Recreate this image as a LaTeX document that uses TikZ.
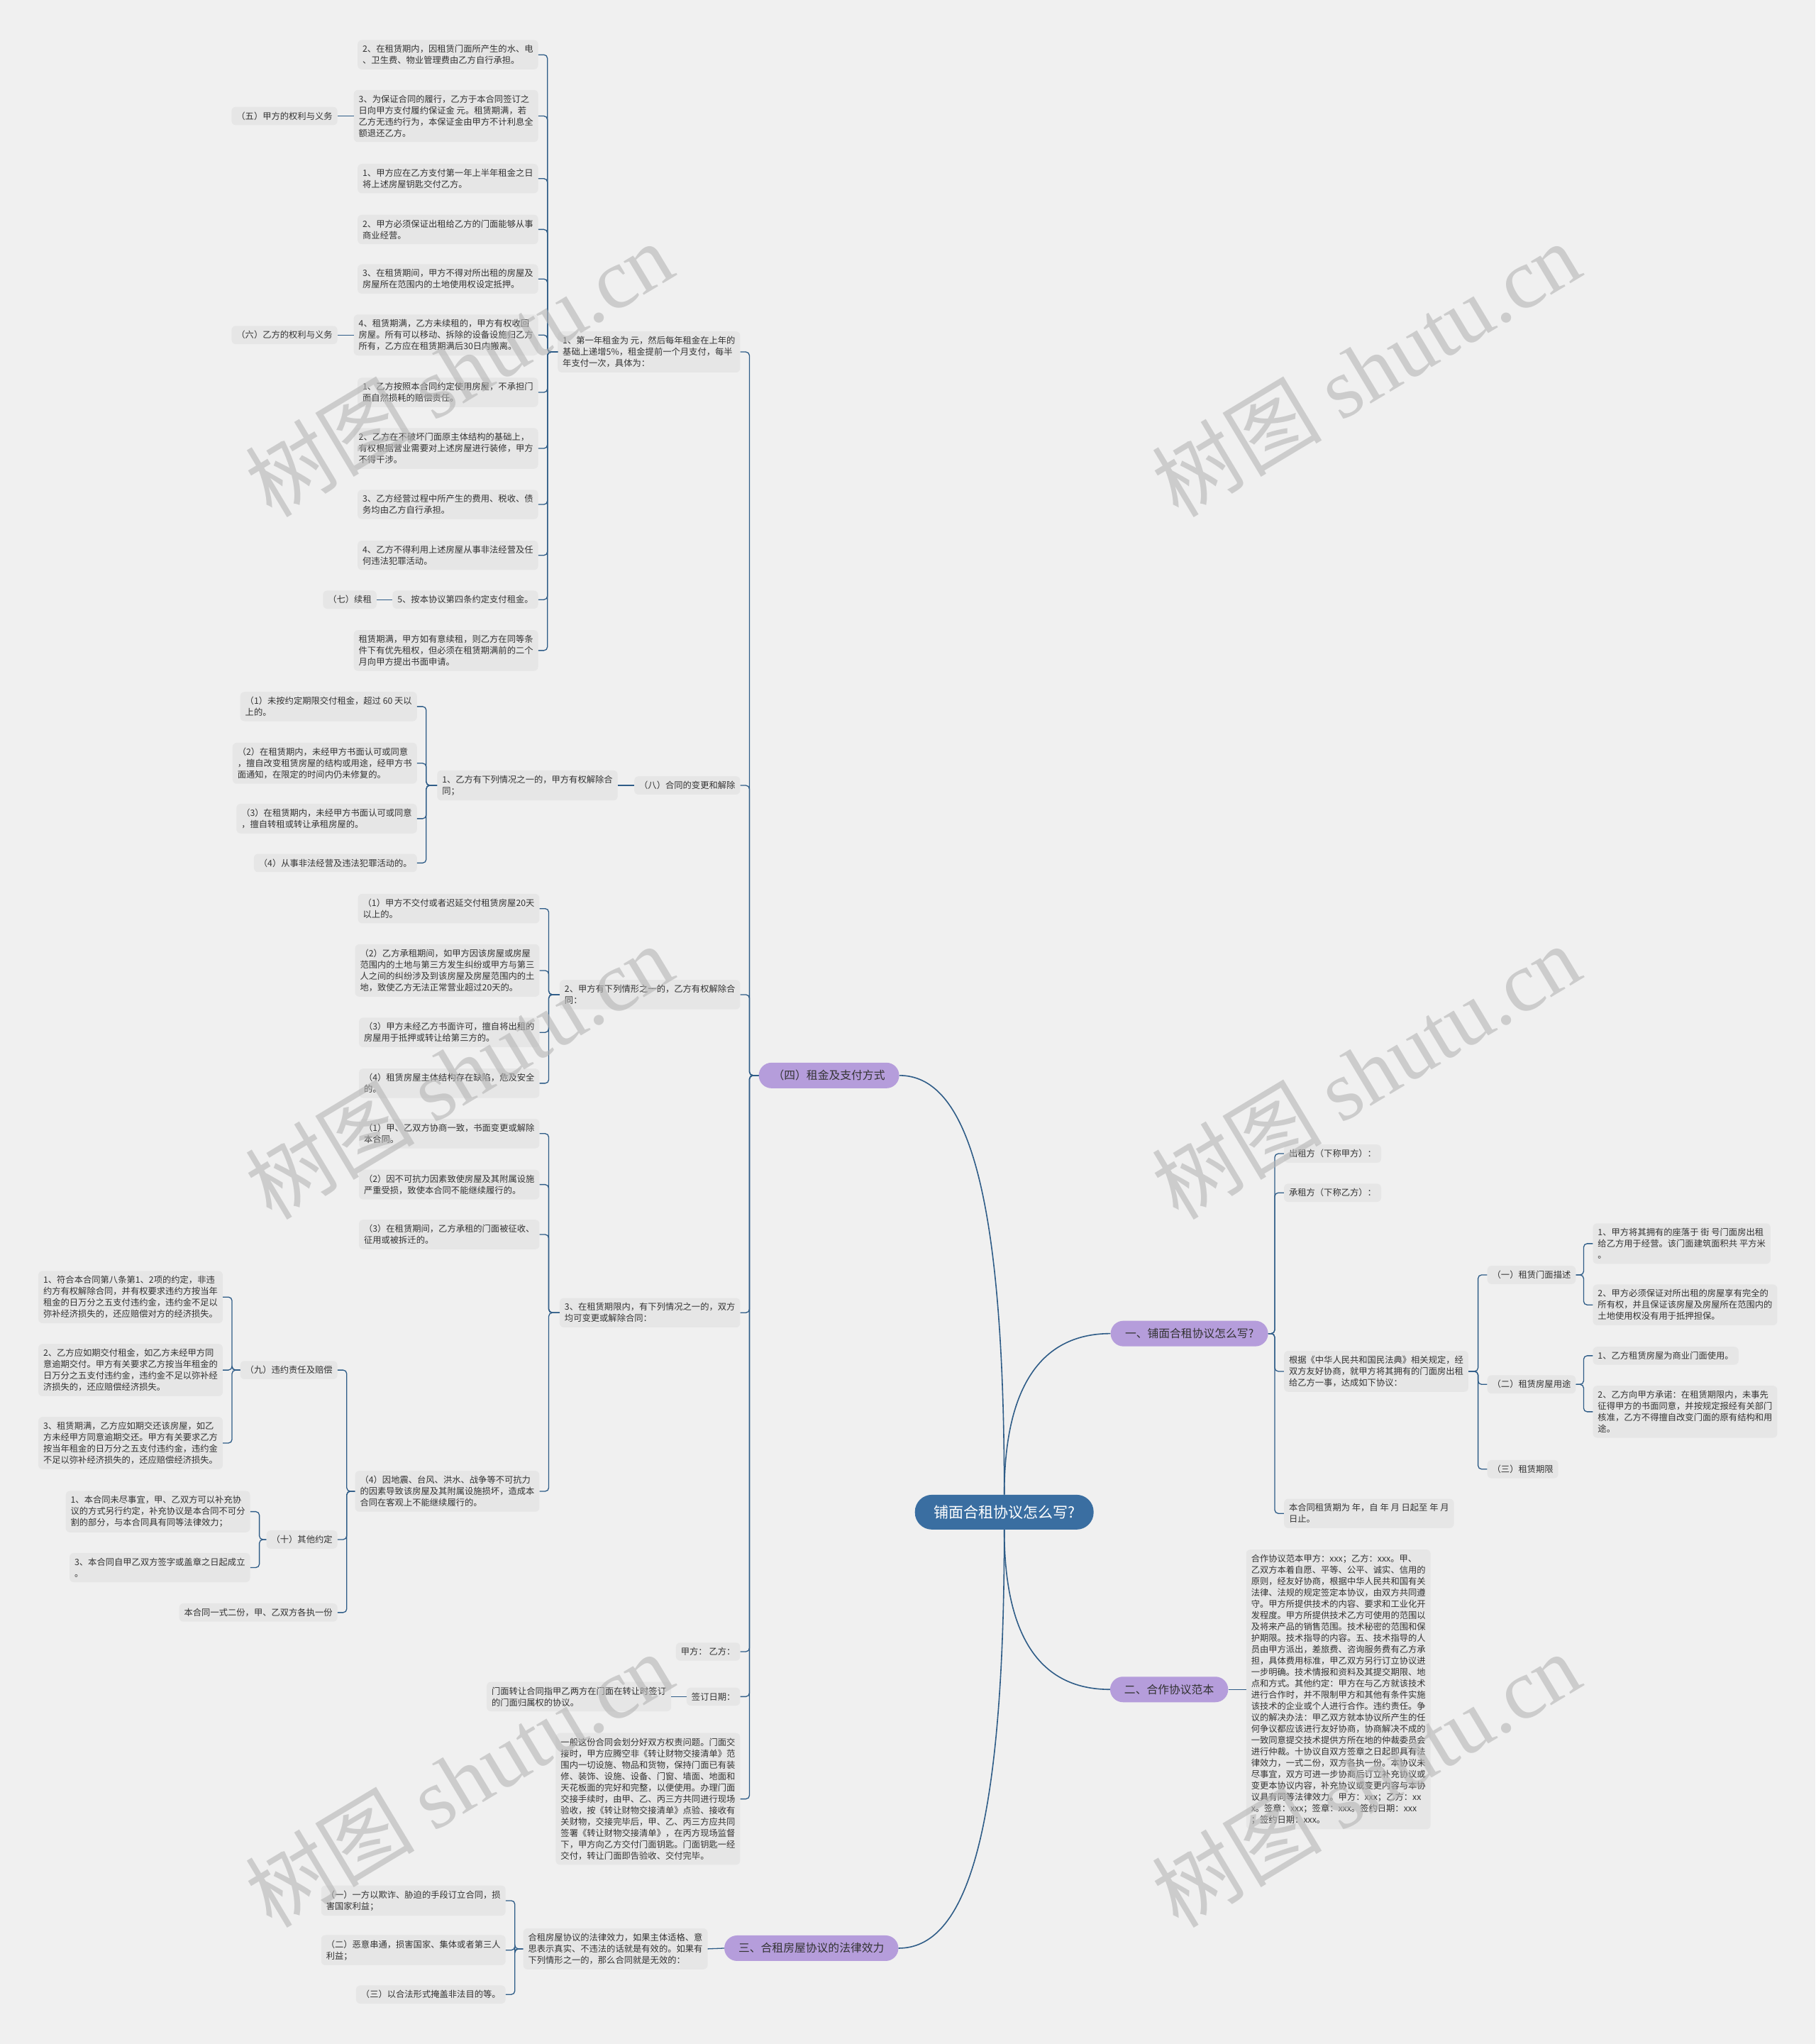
\documentclass[tikz,border=0pt]{standalone}
\usepackage{fontspec}
\setmainfont{Noto Sans CJK SC}
\newfontfamily\wmserif{Liberation Serif}
\usetikzlibrary{positioning,calc}
\definecolor{mmBg}{HTML}{F0F0F0}
\definecolor{mmBox}{HTML}{E6E6E6}
\definecolor{mmLine}{HTML}{2E5C87}
\definecolor{mmRoot}{HTML}{3A6EA1}
\definecolor{mmPurple}{HTML}{B59DDB}
\definecolor{mmText}{HTML}{333333}
\definecolor{mmMark}{HTML}{B4B4B4}
\tikzset{
  leaf/.style={rounded corners=6pt, fill=mmBox, text=mmText, align=left,
               inner xsep=7pt, inner ysep=7pt, font=\fontsize{12.3}{16}\selectfont},
  branch/.style={rounded corners=18pt, fill=mmPurple, text=mmText, inner xsep=20pt,
               minimum height=36pt, font=\fontsize{15.8}{18}\selectfont},
  hub/.style={rounded corners=24pt, fill=mmRoot, text=white, minimum width=252pt,
               minimum height=49pt, font=\fontsize{21}{24}\selectfont},
  link/.style={draw=mmLine, line width=1.3pt, rounded corners=5pt},
  curve/.style={draw=mmLine, line width=1.6pt},
  wm/.style={text=mmMark, text opacity=0.6, rotate=31, font=\fontsize{120}{120}\selectfont},
}
\begin{document}
\begin{tikzpicture}[x=1.8378pt,y=-1.8378pt]
\fill[mmBg] (0,0) rectangle (1393,1568);
\useasboundingbox (0,0) rectangle (1393,1568);

\node[hub] (root) at (770.5,1160) {铺面合租协议怎么写?};
\node[branch] (n4) at (636,825) {（四）租金及支付方式};
\node[branch,minimum width=222pt] (p1) at (912.5,1023) {一、铺面合租协议怎么写?};
\node[branch] (p2) at (897,1296) {二、合作协议范本};
\node[branch] (p3) at (622.5,1494.5) {三、合租房屋协议的法律效力};

\node[leaf,anchor=east] (r1) at (568,270) {1、第一年租金为 元，然后每年租金在上年的\\基础上递增5\%，租金提前一个月支付，每半\\年支付一次，具体为：};
\node[leaf,anchor=east] (r8) at (568,602.5) {（八）合同的变更和解除};
\node[leaf,anchor=east] (r2) at (568,763) {2、甲方有下列情形之一的，乙方有权解除合\\同：};
\node[leaf,anchor=east] (r3) at (568,1007) {3、在租赁期限内，有下列情况之一的，双方\\均可变更或解除合同：};
\node[leaf,anchor=east] (sign) at (568,1267) {甲方：~乙方：};
\node[leaf,anchor=east] (date) at (568,1301.5) {签订日期：};
\node[leaf,anchor=east] (gen) at (568,1380) {一般这份合同会划分好双方权责问题。门面交\\接时，甲方应腾空非《转让财物交接清单》范\\围内一切设施、物品和货物，保持门面已有装\\修、装饰、设施、设备、门窗、墙面、地面和\\天花板面的完好和完整，以便使用。办理门面\\交接手续时，由甲、乙、丙三方共同进行现场\\验收，按《转让财物交接清单》点验、接收有\\关财物，交接完毕后，甲、乙、丙三方应共同\\签署《转让财物交接清单》，在丙方现场监督\\下，甲方向乙方交付门面钥匙。门面钥匙一经\\交付，转让门面即告验收、交付完毕。};

\node[leaf,anchor=east] (a1) at (413,42) {2、在租赁期内，因租赁门面所产生的水、电\\、卫生费、物业管理费由乙方自行承担。};
\node[leaf,anchor=east] (a2) at (413,89) {3、为保证合同的履行，乙方于本合同签订之\\日向甲方支付履约保证金 元。租赁期满，若\\乙方无违约行为，本保证金由甲方不计利息全\\额退还乙方。};
\node[leaf,anchor=east] (a3) at (413,137) {1、甲方应在乙方支付第一年上半年租金之日\\将上述房屋钥匙交付乙方。};
\node[leaf,anchor=east] (a4) at (413,176) {2、甲方必须保证出租给乙方的门面能够从事\\商业经营。};
\node[leaf,anchor=east] (a5) at (413,214) {3、在租赁期间，甲方不得对所出租的房屋及\\房屋所在范围内的土地使用权设定抵押。};
\node[leaf,anchor=east] (a6) at (413,257) {4、租赁期满，乙方未续租的，甲方有权收回\\房屋。所有可以移动、拆除的设备设施归乙方\\所有，乙方应在租赁期满后30日内搬离。};
\node[leaf,anchor=east] (a7) at (413,301) {1、乙方按照本合同约定使用房屋，不承担门\\面自然损耗的赔偿责任。};
\node[leaf,anchor=east] (a8) at (413,344) {2、乙方在不破坏门面原主体结构的基础上，\\有权根据营业需要对上述房屋进行装修，甲方\\不得干涉。};
\node[leaf,anchor=east] (a9) at (413,387) {3、乙方经营过程中所产生的费用、税收、债\\务均由乙方自行承担。};
\node[leaf,anchor=east] (a10) at (413,426) {4、乙方不得利用上述房屋从事非法经营及任\\何违法犯罪活动。};
\node[leaf,anchor=east] (a11) at (413,460) {5、按本协议第四条约定支付租金。};
\node[leaf,anchor=east] (a12) at (413,499) {租赁期满，甲方如有意续租，则乙方在同等条\\件下有优先租权，但必须在租赁期满前的二个\\月向甲方提出书面申请。};
\node[leaf,anchor=east] (b5) at (259,89) {（五）甲方的权利与义务};
\node[leaf,anchor=east] (b6) at (259,257) {（六）乙方的权利与义务};
\node[leaf,anchor=east] (b7) at (289,460) {（七）续租};

\node[leaf,anchor=east] (c1) at (474,602.5) {1、乙方有下列情况之一的，甲方有权解除合\\同；};
\node[leaf,anchor=east] (d1) at (320,542) {（1）未按约定期限交付租金，超过 60 天以\\上的。};
\node[leaf,anchor=east] (d2) at (320,585.5) {（2）在租赁期内，未经甲方书面认可或同意\\，擅自改变租赁房屋的结构或用途，经甲方书\\面通知，在限定的时间内仍未修复的。};
\node[leaf,anchor=east] (d3) at (320,628) {（3）在租赁期内，未经甲方书面认可或同意\\，擅自转租或转让承租房屋的。};
\node[leaf,anchor=east] (d4) at (320,662) {（4）从事非法经营及违法犯罪活动的。};

\node[leaf,anchor=east] (e1) at (414,697) {（1）甲方不交付或者迟延交付租赁房屋20天\\以上的。};
\node[leaf,anchor=east] (e2) at (414,744.5) {（2）乙方承租期间，如甲方因该房屋或房屋\\范围内的土地与第三方发生纠纷或甲方与第三\\人之间的纠纷涉及到该房屋及房屋范围内的土\\地，致使乙方无法正常营业超过20天的。};
\node[leaf,anchor=east] (e3) at (414,792) {（3）甲方未经乙方书面许可，擅自将出租的\\房屋用于抵押或转让给第三方的。};
\node[leaf,anchor=east] (e4) at (414,831) {（4）租赁房屋主体结构存在缺陷，危及安全\\的。};

\node[leaf,anchor=east] (f1) at (414,869.6) {（1）甲、乙双方协商一致，书面变更或解除\\本合同。};
\node[leaf,anchor=east] (f2) at (414,908.7) {（2）因不可抗力因素致使房屋及其附属设施\\严重受损，致使本合同不能继续履行的。};
\node[leaf,anchor=east] (f3) at (414,947) {（3）在租赁期间，乙方承租的门面被征收、\\征用或被拆迁的。};
\node[leaf,anchor=east] (f4) at (414,1144) {（4）因地震、台风、洪水、战争等不可抗力\\的因素导致该房屋及其附属设施损坏，造成本\\合同在客观上不能继续履行的。};

\node[leaf,anchor=east] (g9) at (259,1051) {（九）违约责任及赔偿};
\node[leaf,anchor=east] (g10) at (259,1181) {（十）其他约定};
\node[leaf,anchor=east] (g11) at (259,1237) {本合同一式二份，甲、乙双方各执一份};
\node[leaf,anchor=east] (h1) at (171,995) {1、符合本合同第八条第1、2项的约定，非违\\约方有权解除合同，并有权要求违约方按当年\\租金的日万分之五支付违约金，违约金不足以\\弥补经济损失的，还应赔偿对方的经济损失。};
\node[leaf,anchor=east] (h2) at (171,1051) {2、乙方应如期交付租金，如乙方未经甲方同\\意逾期交付。甲方有关要求乙方按当年租金的\\日万分之五支付违约金，违约金不足以弥补经\\济损失的，还应赔偿经济损失。};
\node[leaf,anchor=east] (h3) at (171,1107) {3、租赁期满，乙方应如期交还该房屋，如乙\\方未经甲方同意逾期交还。甲方有关要求乙方\\按当年租金的日万分之五支付违约金，违约金\\不足以弥补经济损失的，还应赔偿经济损失。};
\node[leaf,anchor=east] (k1) at (192,1159.6) {1、本合同未尽事宜，甲、乙双方可以补充协\\议的方式另行约定，补充协议是本合同不可分\\割的部分，与本合同具有同等法律效力；};
\node[leaf,anchor=east] (k3) at (192,1202.5) {3、本合同自甲乙双方签字或盖章之日起成立\\。};

\node[leaf,anchor=east] (m1) at (515,1301.5) {门面转让合同指甲乙两方在门面在转让时签订\\的门面归属权的协议。};

\node[leaf,anchor=east] (v0) at (543,1495) {合租房屋协议的法律效力，如果主体适格、意\\思表示真实、不违法的话就是有效的。如果有\\下列情形之一的，那么合同就是无效的：};
\node[leaf,anchor=east] (v1) at (388,1458) {（一）一方以欺诈、胁迫的手段订立合同，损\\害国家利益；};
\node[leaf,anchor=east] (v2) at (388,1496) {（二）恶意串通，损害国家、集体或者第三人\\利益；};
\node[leaf,anchor=east] (v3) at (388,1530) {（三）以合法形式掩盖非法目的等。};

\node[leaf,anchor=west] (q1) at (985,885) {出租方（下称甲方）：};
\node[leaf,anchor=west] (q2) at (985,915) {承租方（下称乙方）：};
\node[leaf,anchor=west] (q3) at (985,1052) {根据《中华人民共和国民法典》相关规定，经\\双方友好协商，就甲方将其拥有的门面房出租\\给乙方一事，达成如下协议：};
\node[leaf,anchor=west] (q4) at (985,1161) {本合同租赁期为 年，自 年 月 日起至 年 月\\日止。};
\node[leaf,anchor=west] (s1) at (1141,978) {（一）租赁门面描述};
\node[leaf,anchor=west] (s2) at (1141,1062) {（二）租赁房屋用途};
\node[leaf,anchor=west] (s3) at (1141,1127) {（三）租赁期限};
\node[leaf,anchor=west] (t1) at (1222,954) {1、甲方将其拥有的座落于 街 号门面房出租\\给乙方用于经营。该门面建筑面积共 平方米\\。};
\node[leaf,anchor=west] (t2) at (1222,1001) {2、甲方必须保证对所出租的房屋享有完全的\\所有权，并且保证该房屋及房屋所在范围内的\\土地使用权没有用于抵押担保。};
\node[leaf,anchor=west] (t3) at (1222,1040) {1、乙方租赁房屋为商业门面使用。};
\node[leaf,anchor=west] (t4) at (1222,1083) {2、乙方向甲方承诺：在租赁期限内，未事先\\征得甲方的书面同意，并按规定报经有关部门\\核准，乙方不得擅自改变门面的原有结构和用\\途。};

\node[leaf,anchor=west] (u1) at (956,1296) {合作协议范本甲方：xxx；乙方：xxx。甲、\\乙双方本着自愿、平等、公平、诚实、信用的\\原则，经友好协商，根据中华人民共和国有关\\法律、法规的规定签定本协议，由双方共同遵\\守。甲方所提供技术的内容、要求和工业化开\\发程度。甲方所提供技术乙方可使用的范围以\\及将来产品的销售范围。技术秘密的范围和保\\护期限。技术指导的内容。五、技术指导的人\\员由甲方派出，差旅费、咨询服务费有乙方承\\担，具体费用标准，甲乙双方另行订立协议进\\一步明确。技术情报和资料及其提交期限、地\\点和方式。其他约定：甲方在与乙方就该技术\\进行合作时，并不限制甲方和其他有条件实施\\该技术的企业或个人进行合作。违约责任。争\\议的解决办法：甲乙双方就本协议所产生的任\\何争议都应该进行友好协商，协商解决不成的\\一致同意提交技术提供方所在地的仲裁委员会\\进行仲裁。十协议自双方签章之日起即具有法\\律效力，一式二份，双方各执一份。本协议未\\尽事宜，双方可进一步协商后订立补充协议或\\变更本协议内容，补充协议或变更内容与本协\\议具有同等法律效力。甲方：xxx；乙方：xx\\x。签章：xxx；签章：xxx。签约日期：xxx\\；签约日期：xxx。};

\draw[curve] (root.north) .. controls +(0,-240) and +(50,0) .. (n4.east);
\draw[curve] (root.north) .. controls +(0,-80) and +(-55,0) .. (p1.west);
\draw[curve] (root.south) .. controls +(0,80) and +(-55,0) .. (p2.west);
\draw[curve] (root.south) .. controls +(0,240) and +(50,0) .. (p3.east);

\foreach \c in {r1,r8,r2,r3,sign,date,gen}
  \draw[link] (n4.west) -| ($(\c.east)+(7,0)$) -- (\c.east);
\foreach \c in {a1,a2,a3,a4,a5,a6,a7,a8,a9,a10,a11,a12}
  \draw[link] (r1.west) -| ($(\c.east)+(7,0)$) -- (\c.east);
\foreach \c in {d1,d2,d3,d4}
  \draw[link] (c1.west) -| ($(\c.east)+(7,0)$) -- (\c.east);
\foreach \c in {e1,e2,e3,e4}
  \draw[link] (r2.west) -| ($(\c.east)+(7,0)$) -- (\c.east);
\foreach \c in {f1,f2,f3,f4}
  \draw[link] (r3.west) -| ($(\c.east)+(7,0)$) -- (\c.east);
\foreach \c in {g9,g10,g11}
  \draw[link] (f4.west) -| ($(\c.east)+(7,0)$) -- (\c.east);
\foreach \c in {h1,h2,h3}
  \draw[link] (g9.west) -| ($(\c.east)+(7,0)$) -- (\c.east);
\foreach \c in {k1,k3}
  \draw[link] (g10.west) -| ($(\c.east)+(7,0)$) -- (\c.east);
\foreach \c in {v1,v2,v3}
  \draw[link] (v0.west) -| ($(\c.east)+(7,0)$) -- (\c.east);
\foreach \c in {q1,q2,q3,q4}
  \draw[link] (p1.east) -| ($(\c.west)+(-7,0)$) -- (\c.west);
\foreach \c in {s1,s2,s3}
  \draw[link] (q3.east) -| ($(\c.west)+(-7,0)$) -- (\c.west);
\foreach \c in {t1,t2}
  \draw[link] (s1.east) -| ($(\c.west)+(-7,0)$) -- (\c.west);
\foreach \c in {t3,t4}
  \draw[link] (s2.east) -| ($(\c.west)+(-7,0)$) -- (\c.west);
\draw[link] (b5.east) -- (a2.west);
\draw[link] (b6.east) -- (a6.west);
\draw[link] (b7.east) -- (a11.west);
\draw[link] (c1.east) -- (r8.west);
\draw[link] (m1.east) -- (date.west);
\draw[link] (v0.east) -- (p3.west);
\draw[link] (p2.east) -- (u1.west);

\node[wm] (wm1) at (352,283) {树图 {\wmserif shutu.cn}};
\node[wm] (wm2) at (1048,283) {树图 {\wmserif shutu.cn}};
\node[wm] (wm3) at (352,822) {树图 {\wmserif shutu.cn}};
\node[wm] (wm4) at (1048,822) {树图 {\wmserif shutu.cn}};
\node[wm] (wm5) at (352,1365) {树图 {\wmserif shutu.cn}};
\node[wm] (wm6) at (1048,1365) {树图 {\wmserif shutu.cn}};
\end{tikzpicture}
\end{document}
